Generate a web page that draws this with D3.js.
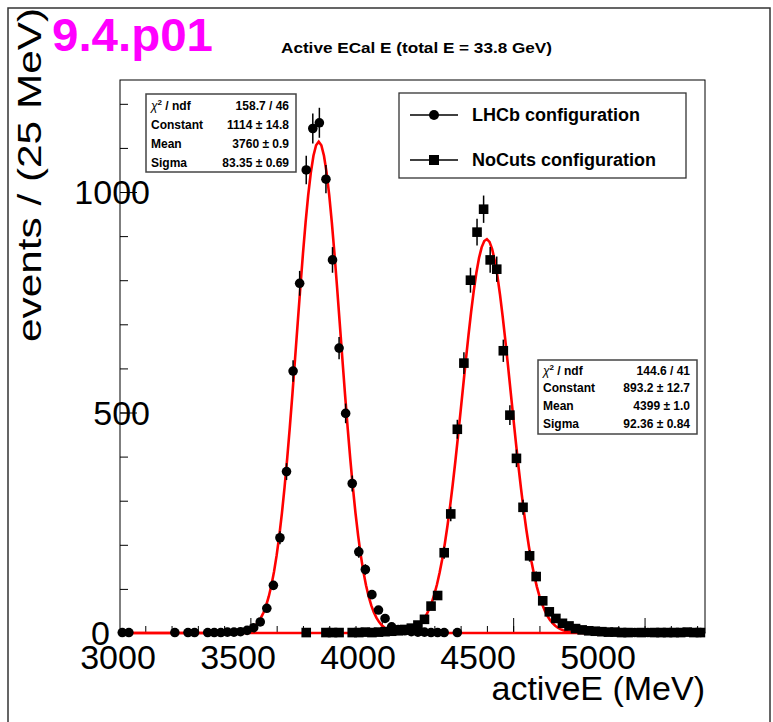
<!DOCTYPE html>
<html>
<head>
<meta charset="utf-8">
<script src="https://cdn.jsdelivr.net/npm/d3@7"></script>
<style>
  body { margin: 0; background: #fff; }
  svg { display: block; font-family: "Liberation Sans", Arial, Helvetica, sans-serif; }
</style>
</head>
<body>
<svg width="773" height="722"></svg>
<script>
// histogram: 25 MeV bins from 3000 MeV
var binStart = 3000;
var binWidth = 25;

// LHCb configuration counts per bin (empty bins are not drawn)
var lhcbCounts = [
  1, 1, 0, 0, 0, 0, 0, 0, 1, 0,
  1, 1, 0, 1, 1, 1, 2, 2, 3, 6,
  12, 25, 56, 108, 216, 366, 594, 793, 1050, 1144,
  1157, 1029, 846, 646, 498, 339, 184, 144, 87, 52,
  33, 14, 8, 5, 3, 2, 2, 1, 1, 1,
  0, 1, 0, 0, 0, 0, 0, 0, 0, 0,
  0, 0, 0, 0, 0, 0, 0, 0, 0, 0,
  0, 0, 0, 0, 0, 0, 0, 0, 1, 0,
  1, 0, 0, 0, 0, 0, 0, 0, 1
];

// NoCuts configuration counts per bin
var noCutsCounts = [
  0, 0, 0, 0, 0, 0, 0, 0, 0, 0,
  0, 0, 0, 0, 0, 0, 0, 0, 0, 0,
  0, 0, 0, 0, 0, 0, 0, 0, 1, 0,
  0, 1, 1, 1, 0, 1, 1, 2, 1, 2,
  3, 4, 5, 8, 11, 18, 31, 61, 85, 182,
  270, 462, 612, 800, 909, 961, 846, 825, 640, 494,
  396, 285, 175, 128, 73, 48, 33, 22, 16, 10,
  7, 5, 4, 3, 2, 2, 1, 1, 0, 1,
  0, 1, 1, 1, 1, 1, 2, 1, 1
];

// gaussian fit results (from the stat boxes)
var fitConstant = [1114, 893.2];
var fitMean = [3760, 4399];
var fitSigma = [83.35, 92.36];

var statNames = ['chi2', 'Constant', 'Mean', 'Sigma'];
var lhcbStats = ['158.7 / 46', '1114 \u00b1 14.8', '3760 \u00b1 0.9', '83.35 \u00b1 0.69'];
var noCutsStats = ['144.6 / 41', '893.2 \u00b1 12.7', '4399 \u00b1 1.0', '92.36 \u00b1 0.84'];

var seriesNames = ['LHCb configuration', 'NoCuts configuration'];
var xTickLabels = [3000, 3500, 4000, 4500, 5000];
var yTickLabels = [0, 500, 1000];

var svg = d3.select('svg');

// outer canvas border
svg.append('rect')
  .attr('x', 8).attr('y', 8)
  .attr('width', 762).attr('height', 730)
  .attr('fill', 'none').attr('stroke', '#333').attr('stroke-width', 1.5);

// plot area
var pLeft = 120, pRight = 705, pTop = 80, pBottom = 633;
var x = d3.scaleLinear().domain([3000, 5230]).range([pLeft - 1, pRight]);
var y = d3.scaleLinear().domain([0, 1254]).range([pBottom, pTop]);
// the tick labels in the picture sit on their own spacing
var xLabelPos = d3.scaleLinear().domain([3000, 5000]).range([118, 598]);

var binCenters = lhcbCounts.map((d, i) => binStart + binWidth * (i + 0.5));

// frame
svg.append('rect')
  .attr('x', pLeft).attr('y', pTop)
  .attr('width', pRight - pLeft).attr('height', pBottom - pTop)
  .attr('fill', 'none').attr('stroke', '#000').attr('stroke-width', 1);

// x ticks (pointing up)
var xMinor = svg.append('g').attr('transform', `translate(0,${pBottom})`)
  .call(d3.axisTop(x).tickValues(d3.range(3100, 5201, 100)).tickSize(7).tickFormat(''));
var xMajor = svg.append('g').attr('transform', `translate(0,${pBottom})`)
  .call(d3.axisTop(x).tickValues(xTickLabels.slice(1)).tickSize(15).tickFormat(''));
// y ticks (pointing right)
var yMinor = svg.append('g').attr('transform', `translate(${pLeft},0)`)
  .call(d3.axisRight(y).tickValues(d3.range(0, 1201, 100)).tickSize(8).tickFormat(''));
var yMajor = svg.append('g').attr('transform', `translate(${pLeft},0)`)
  .call(d3.axisRight(y).tickValues(yTickLabels).tickSize(17).tickFormat(''));
[xMinor, xMajor, yMinor, yMajor].forEach(g => {
  g.select('.domain').remove();
  g.selectAll('line').attr('stroke', '#000').attr('stroke-width', 1);
});

// tick labels
svg.append('g').selectAll('text').data(xTickLabels).enter().append('text')
  .attr('x', d => xLabelPos(d))
  .attr('y', 669)
  .attr('text-anchor', 'middle')
  .style('font-size', '34px')
  .text(d => d);
svg.append('g').selectAll('text').data(yTickLabels).enter().append('text')
  .attr('x', d => d === 0 ? 110 : 150)
  .attr('y', d => y(d) + 12)
  .attr('text-anchor', 'end')
  .style('font-size', '34px')
  .text(d => d);

// axis titles
svg.append('text')
  .attr('x', 705).attr('y', 700)
  .attr('text-anchor', 'end')
  .style('font-size', '34px')
  .text('activeE (MeV)');
svg.append('text')
  .attr('transform', 'translate(41,342) rotate(-90)')
  .attr('text-anchor', 'start')
  .attr('textLength', 334)
  .attr('lengthAdjust', 'spacingAndGlyphs')
  .style('font-size', '34px')
  .text('events / (25 MeV)');

// titles
svg.append('text')
  .attr('x', 281).attr('y', 53)
  .attr('textLength', 271)
  .attr('lengthAdjust', 'spacingAndGlyphs')
  .style('font-size', '15px').style('font-weight', 'bold')
  .text('Active ECal E (total E = 33.8 GeV)');
svg.append('text')
  .attr('x', 52).attr('y', 51)
  .attr('textLength', 161)
  .attr('lengthAdjust', 'spacingAndGlyphs')
  .style('font-size', '46px').style('font-weight', 'bold')
  .style('fill', '#ff00ff')
  .text('9.4.p01');

// fit curves (drawn over full range)
var curveX = d3.range(3000, 5230.1, 10);
fitConstant.forEach((c, j) => {
  var pts = curveX.map(e => [e, c * Math.exp(-0.5 * Math.pow((e - fitMean[j]) / fitSigma[j], 2))]);
  svg.append('path')
    .datum(pts)
    .attr('d', d3.line().x(d => x(d[0])).y(d => y(d[1])))
    .attr('fill', 'none')
    .attr('stroke', '#ff0000')
    .attr('stroke-width', 2.6);
});

// data points with sqrt(N) error bars
function drawPoints(counts, shape) {
  var pts = counts.map((n, i) => ({ e: binCenters[i], n: n })).filter(d => d.n > 0);
  var g = svg.append('g');
  g.selectAll('line').data(pts).enter().append('line')
    .attr('x1', d => x(d.e)).attr('x2', d => x(d.e))
    .attr('y1', d => y(d.n + Math.sqrt(d.n)))
    .attr('y2', d => y(Math.max(0, d.n - Math.sqrt(d.n))))
    .attr('stroke', '#000').attr('stroke-width', 1.5);
  if (shape === 'circle') {
    g.selectAll('circle').data(pts).enter().append('circle')
      .attr('cx', d => x(d.e)).attr('cy', d => y(d.n))
      .attr('r', 4.8).attr('fill', '#000');
  } else {
    g.selectAll('rect').data(pts).enter().append('rect')
      .attr('x', d => x(d.e) - 4.8).attr('y', d => y(d.n) - 4.8)
      .attr('width', 9.6).attr('height', 9.6).attr('fill', '#000');
  }
}
drawPoints(lhcbCounts, 'circle');
drawPoints(noCutsCounts, 'square');

// stat boxes
function statBox(bx, by, bw, bh, values, rowYs) {
  var g = svg.append('g');
  g.append('rect')
    .attr('x', bx).attr('y', by).attr('width', bw).attr('height', bh)
    .attr('fill', '#fff').attr('stroke', '#444').attr('stroke-width', 1.5);
  statNames.forEach((name, i) => {
    var t = g.append('text')
      .attr('x', bx + 5).attr('y', rowYs[i])
      .style('font-size', '12px').style('font-weight', 'bold');
    if (name === 'chi2') {
      t.append('tspan').style('font-weight', 'normal').style('font-style', 'italic').text('\u03c7');
      t.append('tspan').attr('dy', -5).style('font-size', '8px').text('2');
      t.append('tspan').attr('dy', 5).text(' / ndf');
    } else {
      t.text(name);
    }
    g.append('text')
      .attr('x', bx + bw - 7).attr('y', rowYs[i])
      .attr('text-anchor', 'end')
      .style('font-size', '12px').style('font-weight', 'bold')
      .text(values[i]);
  });
}
statBox(146, 94, 150, 78, lhcbStats, [110, 129, 148, 167]);
statBox(538, 360, 159, 74, noCutsStats, [375, 392, 410, 428]);

// legend
var legend = svg.append('g');
legend.append('rect')
  .attr('x', 399).attr('y', 93).attr('width', 287).attr('height', 85)
  .attr('fill', '#fff').attr('stroke', '#333').attr('stroke-width', 1.3);
seriesNames.forEach((name, i) => {
  var ly = 115 + i * 45;
  legend.append('line')
    .attr('x1', 410).attr('x2', 458).attr('y1', ly).attr('y2', ly)
    .attr('stroke', '#000').attr('stroke-width', 1.5);
  if (i === 0) {
    legend.append('circle').attr('cx', 434).attr('cy', ly).attr('r', 5).attr('fill', '#000');
  } else {
    legend.append('rect').attr('x', 429).attr('y', ly - 5).attr('width', 10).attr('height', 10).attr('fill', '#000');
  }
  legend.append('text')
    .attr('x', 472).attr('y', ly + 6)
    .style('font-size', '18px').style('font-weight', 'bold')
    .text(name);
});
</script>
</body>
</html>
